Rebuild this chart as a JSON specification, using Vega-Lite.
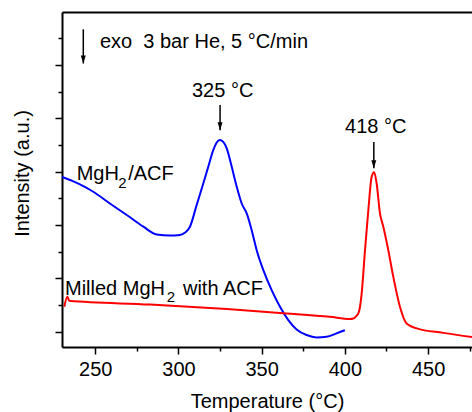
{
  "$schema": "https://vega.github.io/schema/vega-lite/v6.json",
  "width": 410,
  "height": 335,
  "autosize": {"type": "none"},
  "padding": {"left": 62, "top": 12, "right": 0, "bottom": 65},
  "background": "white",
  "config": {"view": {"stroke": null}, "font": "Liberation Sans"},
  "datasets": {
    "curves": [
      {"series": "MgH2/ACF", "T": 230, "I": 5.81},
      {"series": "MgH2/ACF", "T": 234.8, "I": 5.69},
      {"series": "MgH2/ACF", "T": 240.8, "I": 5.53},
      {"series": "MgH2/ACF", "T": 248.8, "I": 5.25},
      {"series": "MgH2/ACF", "T": 258.8, "I": 4.81},
      {"series": "MgH2/ACF", "T": 268.9, "I": 4.38},
      {"series": "MgH2/ACF", "T": 278.9, "I": 3.94},
      {"series": "MgH2/ACF", "T": 286.9, "I": 3.65},
      {"series": "MgH2/ACF", "T": 294.9, "I": 3.61},
      {"series": "MgH2/ACF", "T": 300.9, "I": 3.63},
      {"series": "MgH2/ACF", "T": 304, "I": 3.72},
      {"series": "MgH2/ACF", "T": 306.9, "I": 3.94},
      {"series": "MgH2/ACF", "T": 310.9, "I": 4.75},
      {"series": "MgH2/ACF", "T": 314.9, "I": 5.56},
      {"series": "MgH2/ACF", "T": 317.9, "I": 6.19},
      {"series": "MgH2/ACF", "T": 320.9, "I": 6.81},
      {"series": "MgH2/ACF", "T": 322.9, "I": 7.09},
      {"series": "MgH2/ACF", "T": 324.9, "I": 7.19},
      {"series": "MgH2/ACF", "T": 326.9, "I": 7.12},
      {"series": "MgH2/ACF", "T": 329, "I": 6.88},
      {"series": "MgH2/ACF", "T": 332, "I": 6.19},
      {"series": "MgH2/ACF", "T": 335, "I": 5.44},
      {"series": "MgH2/ACF", "T": 338, "I": 4.81},
      {"series": "MgH2/ACF", "T": 341, "I": 4.44},
      {"series": "MgH2/ACF", "T": 344, "I": 3.81},
      {"series": "MgH2/ACF", "T": 347, "I": 3.06},
      {"series": "MgH2/ACF", "T": 351, "I": 2.31},
      {"series": "MgH2/ACF", "T": 356, "I": 1.56},
      {"series": "MgH2/ACF", "T": 361, "I": 0.94},
      {"series": "MgH2/ACF", "T": 366, "I": 0.44},
      {"series": "MgH2/ACF", "T": 371, "I": 0.09},
      {"series": "MgH2/ACF", "T": 377, "I": -0.12},
      {"series": "MgH2/ACF", "T": 383, "I": -0.21},
      {"series": "MgH2/ACF", "T": 389, "I": -0.19},
      {"series": "MgH2/ACF", "T": 395, "I": -0.06},
      {"series": "MgH2/ACF", "T": 400, "I": 0.06},
      {"series": "Milled MgH2 with ACF", "T": 231.4, "I": 0.94},
      {"series": "Milled MgH2 with ACF", "T": 233.2, "I": 1.31},
      {"series": "Milled MgH2 with ACF", "T": 234.4, "I": 1.16},
      {"series": "Milled MgH2 with ACF", "T": 283, "I": 1.02},
      {"series": "Milled MgH2 with ACF", "T": 365, "I": 0.69},
      {"series": "Milled MgH2 with ACF", "T": 391, "I": 0.56},
      {"series": "Milled MgH2 with ACF", "T": 403, "I": 0.48},
      {"series": "Milled MgH2 with ACF", "T": 405.1, "I": 0.5},
      {"series": "Milled MgH2 with ACF", "T": 407, "I": 0.6},
      {"series": "Milled MgH2 with ACF", "T": 408.1, "I": 0.69},
      {"series": "Milled MgH2 with ACF", "T": 409.1, "I": 0.94},
      {"series": "Milled MgH2 with ACF", "T": 410.1, "I": 1.44},
      {"series": "Milled MgH2 with ACF", "T": 412.1, "I": 3.06},
      {"series": "Milled MgH2 with ACF", "T": 414.1, "I": 4.56},
      {"series": "Milled MgH2 with ACF", "T": 416.1, "I": 5.81},
      {"series": "Milled MgH2 with ACF", "T": 417.6, "I": 5.98},
      {"series": "Milled MgH2 with ACF", "T": 419.1, "I": 5.56},
      {"series": "Milled MgH2 with ACF", "T": 421.1, "I": 4.44},
      {"series": "Milled MgH2 with ACF", "T": 423.1, "I": 3.94},
      {"series": "Milled MgH2 with ACF", "T": 426.1, "I": 3.06},
      {"series": "Milled MgH2 with ACF", "T": 429.1, "I": 2.06},
      {"series": "Milled MgH2 with ACF", "T": 433.1, "I": 0.94},
      {"series": "Milled MgH2 with ACF", "T": 437.1, "I": 0.31},
      {"series": "Milled MgH2 with ACF", "T": 443.2, "I": 0.13},
      {"series": "Milled MgH2 with ACF", "T": 459.1, "I": -0.04},
      {"series": "Milled MgH2 with ACF", "T": 476.4, "I": -0.2}
    ],
    "arrows": [
      {"x": 242.8, "y1": 11.34, "y2": 10.06},
      {"x": 325, "y1": 8.5, "y2": 7.56},
      {"x": 417.4, "y1": 7.12, "y2": 6.13}
    ],
    "labels": [
      {"x": 252.8, "y": 10.63, "text": "exo\u00a0 3 bar He, 5 °C/min"},
      {"x": 308.1, "y": 8.81, "text": "325 °C"},
      {"x": 400.1, "y": 7.45, "text": "418 °C"},
      {"x": 238.8, "y": 5.69, "text": "MgH"},
      {"x": 269.8, "y": 5.69, "text": "/ACF"},
      {"x": 231.8, "y": 1.38, "text": "Milled MgH"},
      {"x": 302.7, "y": 1.38, "text": "with ACF"}
    ],
    "subs": [
      {"x": 263.8, "y": 5.41, "text": "2"},
      {"x": 292.9, "y": 1.11, "text": "2"}
    ]
  },
  "layer": [
    {
      "data": {"name": "curves"},
      "mark": {"type": "line", "interpolate": "monotone", "strokeWidth": 2, "clip": true},
      "encoding": {
        "x": {
          "field": "T", "type": "quantitative",
          "scale": {"domain": [230, 476.4], "nice": false, "zero": false},
          "axis": {"orient": "bottom", "title": "Temperature (°C)", "values": [250, 300, 350, 400, 450],
            "tickSize": 7, "tickWidth": 1.5, "domainWidth": 2, "labelFontSize": 20, "titleFontSize": 20,
            "titleFontWeight": "normal", "labelPadding": 5, "titlePadding": 12, "grid": false,
            "labelColor": "black", "titleColor": "black", "domainColor": "black", "tickColor": "black", "labelFlush": false}
        },
        "y": {
          "field": "I", "type": "quantitative",
          "scale": {"domain": [-0.57, 11.99], "nice": false, "zero": false},
          "axis": {"orient": "left", "title": "Intensity (a.u.)", "values": [0, 2, 4, 6, 8, 10], "labels": false,
            "tickSize": 7, "tickWidth": 1.5, "domainWidth": 2, "titleFontSize": 20, "titleFontWeight": "normal",
            "titleColor": "black", "domainColor": "black", "tickColor": "black", "grid": false,
            "titleX": -30, "titleY": 161}
        },
        "color": {
          "field": "series", "type": "nominal",
          "scale": {"domain": ["MgH2/ACF", "Milled MgH2 with ACF"], "range": ["#0000ff", "#ff0000"]},
          "legend": null
        }
      }
    },
    {
      "data": {"name": "arrows"},
      "mark": {"type": "rule", "strokeWidth": 1.5, "color": "black"},
      "encoding": {
        "x": {"field": "x", "type": "quantitative",
          "axis": {"orient": "bottom", "values": [275, 325, 375, 425, 475], "labels": false, "domain": false,
            "tickSize": 4, "tickWidth": 1.5, "tickColor": "black", "title": null, "grid": false}},
        "y": {"field": "y1", "type": "quantitative",
          "axis": {"orient": "left", "values": [1, 3, 5, 7, 9, 11], "labels": false, "domain": false,
            "tickSize": 4, "tickWidth": 1.5, "tickColor": "black", "title": null, "grid": false}},
        "y2": {"field": "y2"}
      }
    },
    {
      "data": {"name": "arrows"},
      "mark": {"type": "point", "shape": "M-0.5,-1.6L0.5,-1.6L0,0Z", "filled": true, "color": "black", "size": 100, "opacity": 1},
      "encoding": {
        "x": {"field": "x", "type": "quantitative",
          "axis": {"orient": "top", "labels": false, "ticks": false, "domainWidth": 2, "domainColor": "black", "title": null, "grid": false}},
        "y": {"field": "y2", "type": "quantitative", "axis": null}
      }
    },
    {
      "data": {"name": "labels"},
      "mark": {"type": "text", "align": "left", "baseline": "alphabetic", "fontSize": 20, "color": "black"},
      "encoding": {
        "x": {"field": "x", "type": "quantitative", "axis": null},
        "y": {"field": "y", "type": "quantitative", "axis": null},
        "text": {"field": "text"}
      }
    },
    {
      "data": {"name": "subs"},
      "mark": {"type": "text", "align": "left", "baseline": "alphabetic", "fontSize": 15, "color": "black"},
      "encoding": {
        "x": {"field": "x", "type": "quantitative", "axis": null},
        "y": {"field": "y", "type": "quantitative", "axis": null},
        "text": {"field": "text"}
      }
    }
  ],
  "resolve": {"axis": {"x": "independent", "y": "independent"}}
}
